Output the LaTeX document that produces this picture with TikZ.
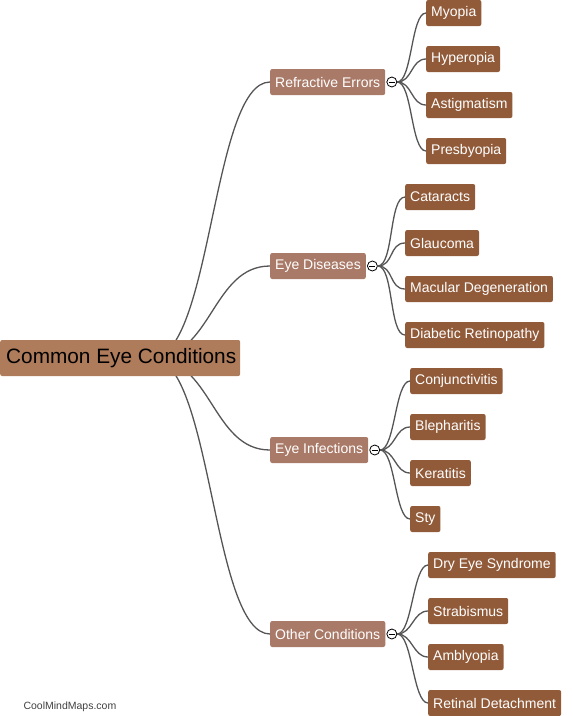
\documentclass[tikz,border=0pt]{standalone}
\usepackage{fontspec}
\setmainfont{Liberation Sans}
\usetikzlibrary{positioning}
\definecolor{rootbrown}{RGB}{174,123,91}
\definecolor{midbrown}{RGB}{170,122,104}
\definecolor{leafbrown}{RGB}{145,91,58}
\definecolor{branchgray}{RGB}{85,85,85}
\tikzset{
  rootbox/.style={rectangle, rounded corners=2pt, fill=rootbrown, text=black, anchor=west,
    minimum height=36pt, inner xsep=6pt, inner ysep=0pt, font=\fontsize{20.8}{24}\selectfont},
  topicbox/.style={rectangle, rounded corners=2pt, fill=midbrown, text=white, anchor=west,
    minimum height=26pt, inner xsep=5pt, inner ysep=0pt, font=\fontsize{14}{16}\selectfont},
  leafbox/.style={rectangle, rounded corners=2pt, fill=leafbrown, text=white, anchor=west,
    minimum height=26pt, inner xsep=5pt, inner ysep=0pt, font=\fontsize{14}{16}\selectfont},
  collapse/.style={circle, draw=black, fill=white, line width=0.8pt, minimum size=10pt, inner sep=0pt,
    path picture={\draw[line width=1pt] ([xshift=-3pt]path picture bounding box.center) -- ([xshift=3pt]path picture bounding box.center);}},
  branch/.style={draw=branchgray, line width=1.3pt}
}
\begin{document}
\begin{tikzpicture}[x=1pt, y=-1pt]
\useasboundingbox (0,0) rectangle (573,716);
\coordinate (hub) at (152,358);
% topics
\node[topicbox] (refr) at (270,82) {Refractive Errors};
\node[topicbox] (dise) at (270,266) {Eye Diseases};
\node[topicbox] (infe) at (270,450) {Eye Infections};
\node[topicbox] (othe) at (270,634) {Other Conditions};
% leaves
\node[leafbox] (myop) at (426,13) {Myopia};
\node[leafbox] (hype) at (426,59) {Hyperopia};
\node[leafbox] (asti) at (426,105) {Astigmatism};
\node[leafbox] (pres) at (426,151) {Presbyopia};
\node[leafbox] (cata) at (405,197) {Cataracts};
\node[leafbox] (glau) at (405,243) {Glaucoma};
\node[leafbox] (macu) at (405,289) {Macular Degeneration};
\node[leafbox] (diab) at (405,335) {Diabetic Retinopathy};
\node[leafbox] (conj) at (410,381) {Conjunctivitis};
\node[leafbox] (blep) at (410,427) {Blepharitis};
\node[leafbox] (kera) at (410,473) {Keratitis};
\node[leafbox] (sty) at (410,519) {Sty};
\node[leafbox] (drye) at (428,565) {Dry Eye Syndrome};
\node[leafbox] (stra) at (428,611) {Strabismus};
\node[leafbox] (ambl) at (428,657) {Amblyopia};
\node[leafbox] (reti) at (428,703) {Retinal Detachment};
% branches from the centre
\foreach \t in {refr,dise,infe,othe}
  \draw[branch] (hub) .. controls +(60,0) and +(-58,0) .. (\t.west);
\node[rootbox] (root) at (0,358) {\makebox[228pt][l]{Common Eye Conditions}};
% collapse buttons
\node[collapse, right=1pt of refr] (refrc) {};
\node[collapse, right=1pt of dise] (disec) {};
\node[collapse, right=1pt of infe] (infec) {};
\node[collapse, right=1pt of othe] (othec) {};
\foreach \l in {myop,hype,asti,pres}
  \draw[branch] (refrc.east) .. controls +(15,0) and +(-15,0) .. (\l.west);
\foreach \l in {cata,glau,macu,diab}
  \draw[branch] (disec.east) .. controls +(16,0) and +(-16,0) .. (\l.west);
\foreach \l in {conj,blep,kera,sty}
  \draw[branch] (infec.east) .. controls +(15,0) and +(-15,0) .. (\l.west);
\foreach \l in {drye,stra,ambl,reti}
  \draw[branch] (othec.east) .. controls +(15,0) and +(-15,0) .. (\l.west);
\node[anchor=west, text=black!75, font=\fontsize{10.5}{12}\selectfont] (mark) at (20,707) {CoolMindMaps.com};
\end{tikzpicture}
\end{document}
